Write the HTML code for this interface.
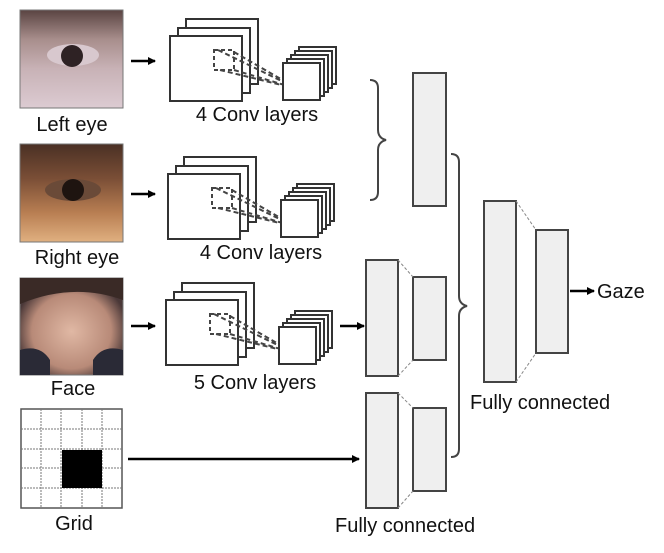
<!DOCTYPE html>
<html><head><style>
body{margin:0;background:#fff;}
svg{display:block}
text{font-family:"Liberation Sans","DejaVu Sans",sans-serif;fill:#111;font-size:20px}
</style></head><body>
<svg width="664" height="553" viewBox="0 0 664 553" xmlns="http://www.w3.org/2000/svg">
<defs>
<linearGradient id="le" x1="0" y1="0" x2="0" y2="1"><stop offset="0" stop-color="#5a4442"/><stop offset="0.3" stop-color="#a88e8c"/><stop offset="0.6" stop-color="#c8b2b6"/><stop offset="1" stop-color="#dccbd2"/></linearGradient>
<linearGradient id="re" x1="0" y1="0" x2="0" y2="1"><stop offset="0" stop-color="#4a3024"/><stop offset="0.35" stop-color="#7a4e36"/><stop offset="0.7" stop-color="#b87e52"/><stop offset="1" stop-color="#e0b080"/></linearGradient>
<radialGradient id="fc" cx="0.5" cy="0.55" r="0.55"><stop offset="0" stop-color="#e0b8a4"/><stop offset="0.7" stop-color="#b88a78"/><stop offset="1" stop-color="#4a3838"/></radialGradient>
<marker id="ah" markerWidth="8" markerHeight="8" refX="7" refY="4" orient="auto" markerUnits="userSpaceOnUse"><path d="M0,0 L8,4 L0,8z" fill="#000"/></marker>
<g id="big"><rect x="16" y="-17" width="72" height="65" fill="#fff" stroke="#333" stroke-width="2"/><rect x="8" y="-8" width="72" height="65" fill="#fff" stroke="#333" stroke-width="2"/><rect x="0" y="0" width="72" height="65" fill="#fff" stroke="#333" stroke-width="2"/>
<rect x="44" y="14" width="20" height="20" fill="none" stroke="#444" stroke-width="2" stroke-dasharray="4,3"/>
<path d="M48,14 L128,53 M64,16 L128,53 M50,34 L128,53 M64,34 L128,53" stroke="#444" stroke-width="2" stroke-dasharray="5,3"/></g>
<g id="small"><rect x="16" y="-16" width="37" height="37" fill="#fff" stroke="#333" stroke-width="2"/><rect x="12" y="-12" width="37" height="37" fill="#fff" stroke="#333" stroke-width="2"/><rect x="8" y="-8" width="37" height="37" fill="#fff" stroke="#333" stroke-width="2"/><rect x="4" y="-4" width="37" height="37" fill="#fff" stroke="#333" stroke-width="2"/><rect x="0" y="0" width="37" height="37" fill="#fff" stroke="#333" stroke-width="2"/></g>
</defs>
<rect x="20" y="10" width="103" height="98" fill="url(#le)" stroke="#777"/>
<ellipse cx="73" cy="55" rx="26" ry="11" fill="#d8c8ce"/><circle cx="72" cy="56" r="11" fill="#2e2224"/>
<rect x="20" y="144" width="103" height="98" fill="url(#re)" stroke="#777"/>
<ellipse cx="73" cy="190" rx="28" ry="11" fill="#6a4a38"/><circle cx="73" cy="190" r="11" fill="#1e1410"/>
<rect x="20" y="278" width="103" height="97" fill="url(#fc)" stroke="#777"/>
<path d="M20,278 h103 v22 q-50,-18 -103,4z" fill="#3a2a26"/>
<path d="M20,350 q20,-6 30,10 v15 h-30z M123,350 q-20,-6 -30,10 v15 h30z" fill="#2a2a36"/>
<g stroke="#777" stroke-width="1"><rect x="21" y="409" width="101" height="99" fill="#fff" stroke="#555" stroke-width="1.5"/>
<path d="M41,409v99M61,409v99M82,409v99M102,409v99M21,429h101M21,449h101M21,468h101M21,488h101" stroke-dasharray="2,1"/></g>
<rect x="62" y="450" width="40" height="38" fill="#000"/>
<text x="72" y="131" text-anchor="middle">Left eye</text>
<text x="77" y="264" text-anchor="middle">Right eye</text>
<text x="73" y="395" text-anchor="middle">Face</text>
<text x="74" y="530" text-anchor="middle">Grid</text>
<g stroke="#000" stroke-width="2.5" marker-end="url(#ah)">
<line x1="131" y1="61" x2="155" y2="61"/><line x1="131" y1="194" x2="155" y2="194"/><line x1="131" y1="326" x2="155" y2="326"/>
<line x1="340" y1="326" x2="364" y2="326"/><line x1="128" y1="459" x2="359" y2="459"/><line x1="570" y1="291" x2="594" y2="291"/></g>
<use href="#big" x="170" y="36"/><use href="#small" x="283" y="63"/>
<use href="#big" x="168" y="174"/><use href="#small" x="281" y="200"/>
<use href="#big" x="166" y="300"/><use href="#small" x="279" y="327"/>
<text x="257" y="121" text-anchor="middle">4 Conv layers</text>
<text x="261" y="259" text-anchor="middle">4 Conv layers</text>
<text x="255" y="389" text-anchor="middle">5 Conv layers</text>
<g fill="#efefef" stroke="#444" stroke-width="2">
<rect x="413" y="73" width="33" height="133"/>
<rect x="366" y="260" width="32" height="116"/><rect x="413" y="277" width="33" height="83"/>
<rect x="366" y="393" width="32" height="115"/><rect x="413" y="408" width="33" height="83"/>
<rect x="484" y="201" width="32" height="181"/><rect x="536" y="230" width="32" height="123"/></g>
<g stroke="#888" stroke-width="1" stroke-dasharray="3,2">
<path d="M398,260 L413,277 M398,376 L413,360 M398,393 L413,408 M398,508 L413,491 M516,201 L536,230 M516,382 L536,353"/></g>
<g fill="none" stroke="#444" stroke-width="2">
<path d="M370,80 q8,0 8,8 v42 q0,8 8,10 q-8,2 -8,10 v42 q0,8 -8,8"/>
<path d="M451,154 q8,0 8,8 v134 q0,8 8,10 q-8,2 -8,10 v133 q0,8 -8,8"/></g>
<text x="597" y="298">Gaze</text>
<text x="470" y="409">Fully connected</text>
<text x="335" y="532">Fully connected</text>
</svg>
</body></html>
